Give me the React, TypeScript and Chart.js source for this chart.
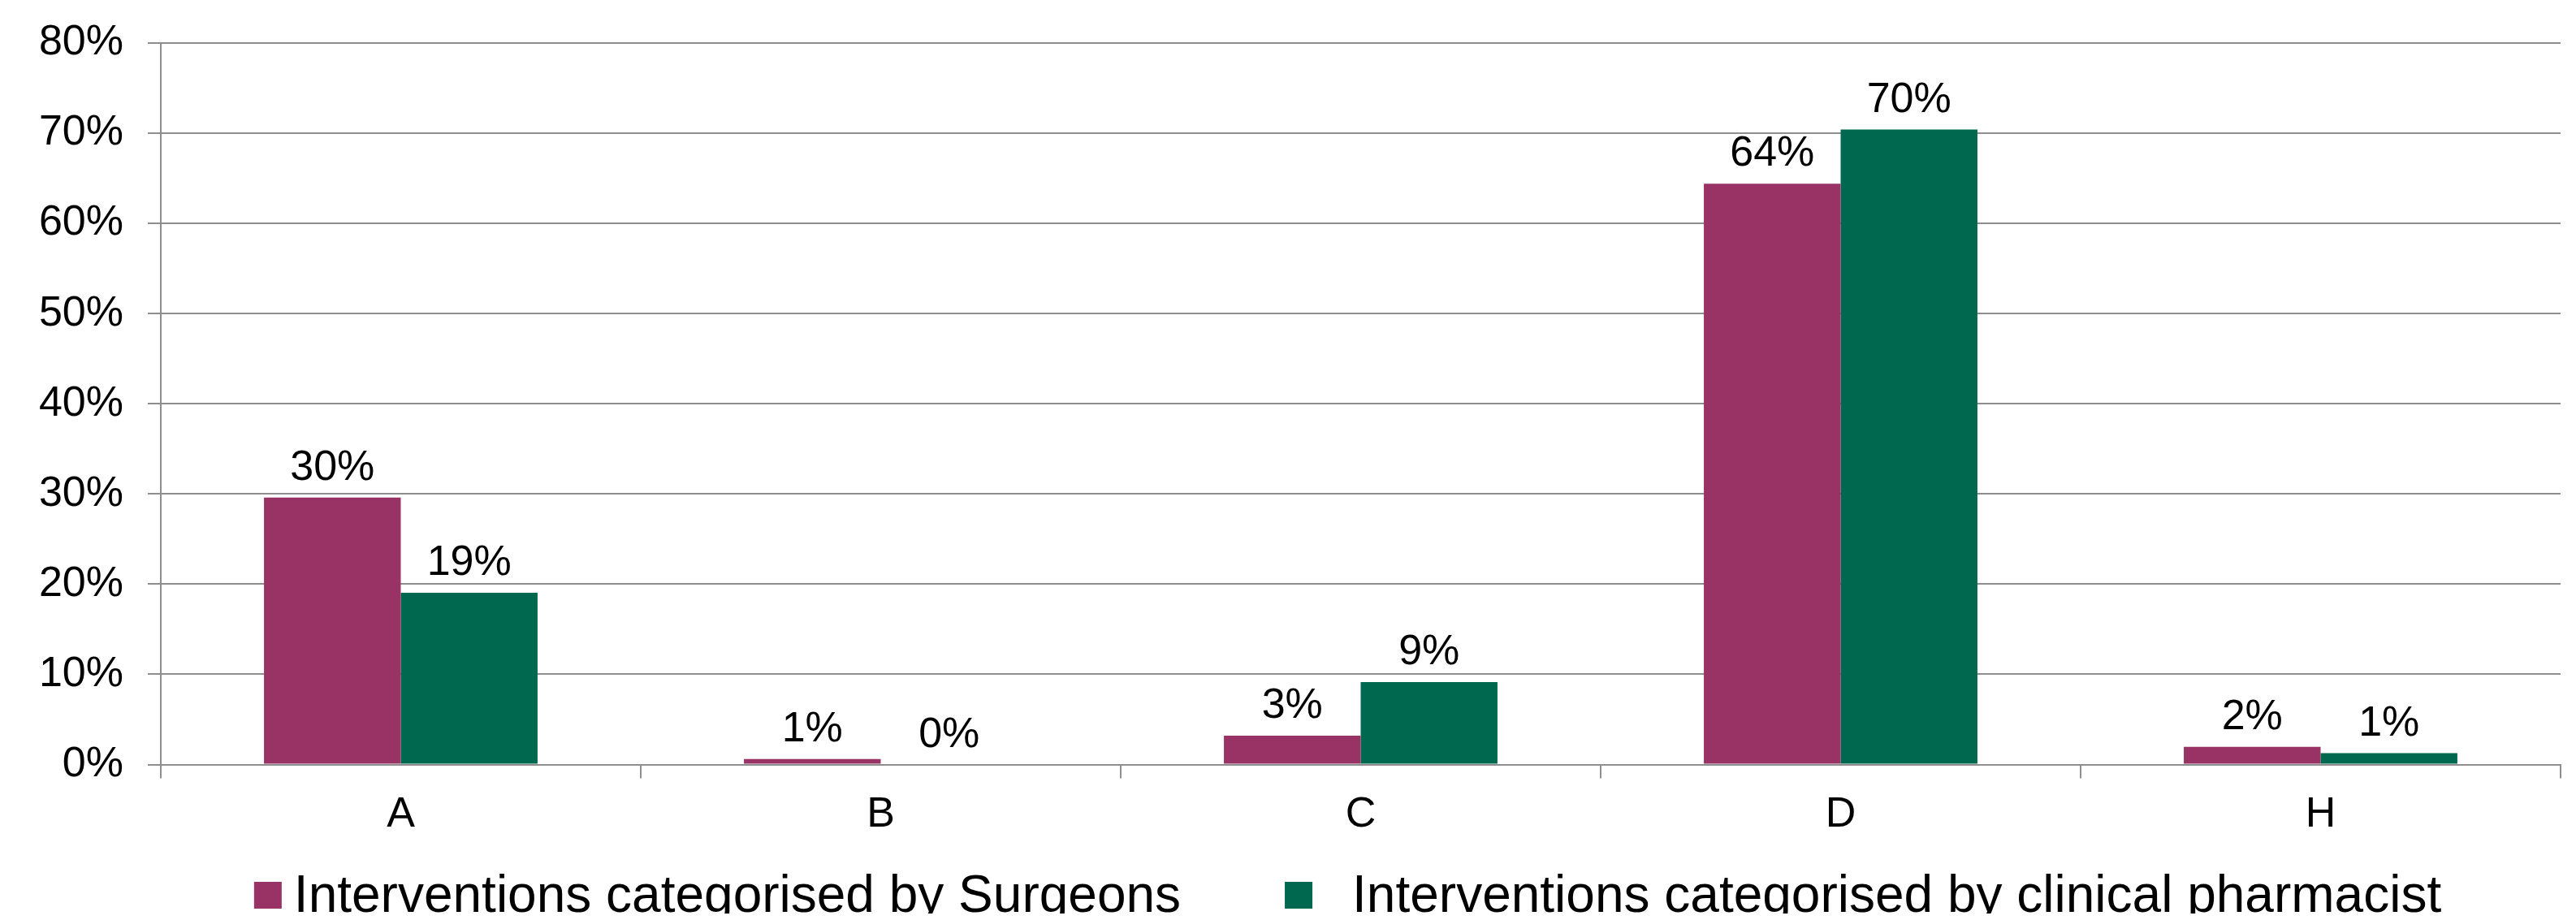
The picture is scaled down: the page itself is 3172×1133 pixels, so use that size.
import React, { useEffect, useRef } from "react";
import { Chart, registerables } from "chart.js";

Chart.register(...registerables);

// ---- data ----
const categories = ["A", "B", "C", "D", "H"];
const surgeonsValues = [29.6, 0.6, 3.2, 64.4, 1.95];
const pharmacistValues = [19.05, 0, 9.14, 70.4, 1.26];
const seriesLabels = [
  "Interventions categorised by Surgeons",
  "Interventions categorised by clinical pharmacist",
];
const seriesColors = ["#993366", "#00684F"];
const yMin = 0;
const yMax = 80;
const yStep = 10;

const FONT = "'Liberation Sans', Arial, Helvetica, sans-serif";
const GRID = "#8e8e8e";

const valueLabelPlugin = {
  id: "valueLabels",
  afterDatasetsDraw(chart: any) {
    const ctx = chart.ctx;
    ctx.save();
    ctx.font = `52px ${FONT}`;
    ctx.fillStyle = "#000";
    ctx.textAlign = "center";
    ctx.textBaseline = "alphabetic";
    chart.data.datasets.forEach((ds: any, di: number) => {
      const meta = chart.getDatasetMeta(di);
      meta.data.forEach((bar: any, i: number) => {
        const v = ds.data[i];
        ctx.fillText(`${Math.round(v)}%`, bar.x, bar.y - 22);
      });
    });
    ctx.restore();
  },
};

const legendPlugin = {
  id: "customLegend",
  afterDraw(chart: any) {
    const ctx = chart.ctx;
    const area = chart.chartArea;
    ctx.save();
    ctx.font = `64px ${FONT}`;
    const boxW = 34;
    const boxH = 33;
    const textGaps = [15, 49];
    const itemGap = 128;
    const widths = chart.data.datasets.map((ds: any) => ctx.measureText(ds.label).width);
    let total = 0;
    widths.forEach((w: number, i: number) => {
      total += boxW + textGaps[i] + w;
      if (i < widths.length - 1) total += itemGap;
    });
    let x = (area.left + area.right) / 2 - total / 2 - 16;
    const baseline = 1114.7;
    const boxTop = 1078;
    ctx.textBaseline = "alphabetic";
    ctx.textAlign = "left";
    chart.data.datasets.forEach((ds: any, i: number) => {
      ctx.fillStyle = ds.backgroundColor;
      ctx.fillRect(x, boxTop, boxW, boxH);
      x += boxW + textGaps[i];
      ctx.fillStyle = "#000";
      ctx.fillText(ds.label, x, baseline);
      x += widths[i] + itemGap;
    });
    ctx.restore();
  },
};

export default function App() {
  const canvasRef = useRef<HTMLCanvasElement | null>(null);

  useEffect(() => {
    if (!canvasRef.current) return;
    const chart = new Chart(canvasRef.current, {
      type: "bar",
      data: {
        labels: categories,
        datasets: [
          {
            label: seriesLabels[0],
            data: surgeonsValues,
            backgroundColor: seriesColors[0],
            borderWidth: 0,
            categoryPercentage: 0.57,
            barPercentage: 1.0,
          },
          {
            label: seriesLabels[1],
            data: pharmacistValues,
            backgroundColor: seriesColors[1],
            borderWidth: 0,
            categoryPercentage: 0.57,
            barPercentage: 1.0,
          },
        ],
      },
      options: {
        animation: false,
        responsive: true,
        maintainAspectRatio: false,
        layout: { padding: { top: 45, right: 11, bottom: 91.5, left: 0 } },
        plugins: {
          legend: { display: false },
          title: { display: false },
          tooltip: { enabled: false },
        },
        scales: {
          x: {
            offset: true,
            afterFit: (s: any) => {
              s.height = 100;
              s.paddingLeft = 0;
              s.paddingRight = 0;
            },
            grid: {
              offset: true,
              drawOnChartArea: false,
              drawTicks: true,
              tickLength: 17,
              color: GRID,
              lineWidth: 2,
            },
            border: { display: true, color: GRID, width: 2 },
            ticks: {
              color: "#000",
              font: { family: FONT, size: 52 },
              padding: 14,
            },
          },
          y: {
            min: yMin,
            max: yMax,
            afterFit: (s: any) => {
              s.width = 190;
              s.paddingTop = 0;
              s.paddingBottom = 0;
            },
            grid: {
              color: GRID,
              lineWidth: 2,
              drawTicks: true,
              tickLength: 16,
            },
            border: { display: true, color: GRID, width: 2 },
            ticks: {
              stepSize: yStep,
              color: "#000",
              font: { family: FONT, size: 52 },
              padding: 30,
              callback: (v: any) => `${v}%`,
            },
          },
        },
      },
      plugins: [valueLabelPlugin, legendPlugin],
    });
    return () => chart.destroy();
  }, []);

  return (
    <div style={{ position: "relative", width: "100%", height: 1125, marginBottom: -8 }}>
      <canvas ref={canvasRef} />
    </div>
  );
}
